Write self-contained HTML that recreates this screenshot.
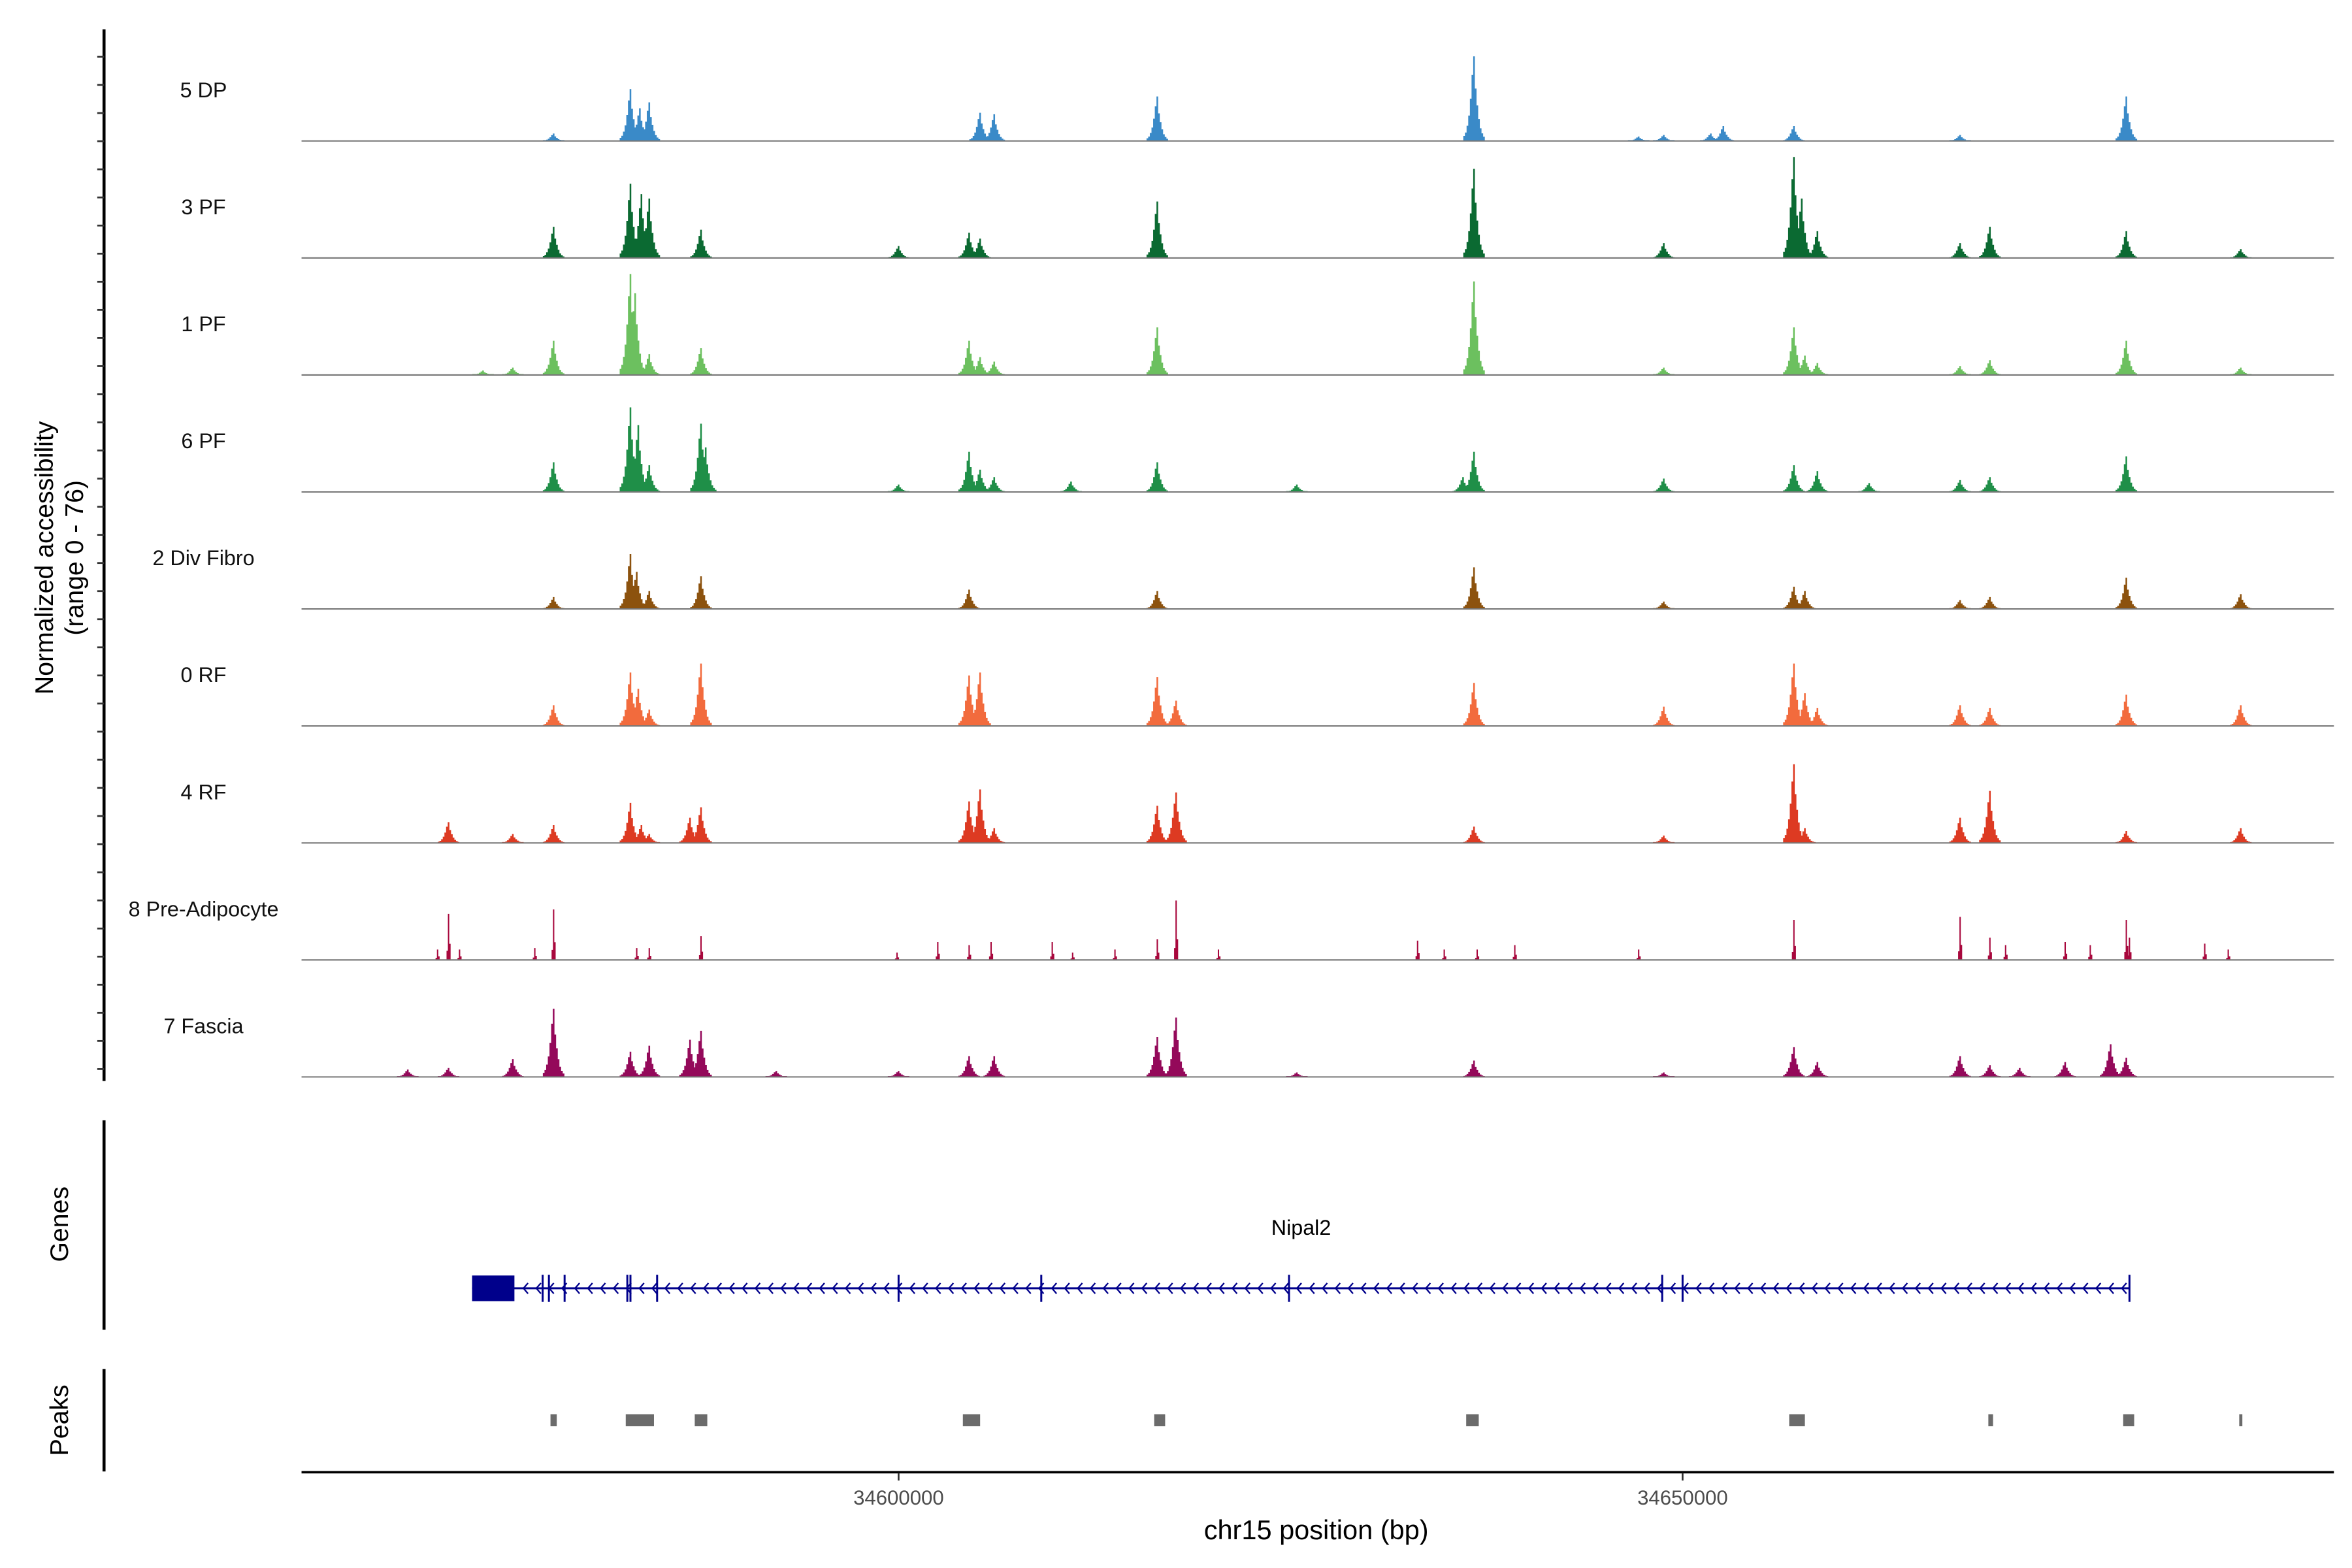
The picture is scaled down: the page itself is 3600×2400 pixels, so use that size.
<!DOCTYPE html>
<html><head><meta charset="utf-8"><style>
html,body{margin:0;padding:0;background:#fff;}
svg{display:block;font-family:"Liberation Sans",Arial,sans-serif;}
</style></head><body>
<svg id="chart" width="3600" height="2400" viewBox="0 0 1560 1040" preserveAspectRatio="none" xmlns="http://www.w3.org/2000/svg">
<rect width="1560" height="1040" fill="#fff"/>
<g id="tracks"></g>
<g id="yaxis"></g>
<text transform="translate(35,370) rotate(-90)" text-anchor="middle" font-size="17" fill="#000">Normalized accessibility</text>
<text transform="translate(55,370) rotate(-90)" text-anchor="middle" font-size="17" fill="#000">(range 0 - 76)</text>
<line x1="69" y1="743" x2="69" y2="882" stroke="#000" stroke-width="2"/>
<text transform="translate(45,812) rotate(-90)" text-anchor="middle" font-size="17" fill="#000">Genes</text>
<g id="genes"></g>
<line x1="69" y1="908" x2="69" y2="976" stroke="#000" stroke-width="2"/>
<text transform="translate(45,942) rotate(-90)" text-anchor="middle" font-size="17" fill="#000">Peaks</text>
<g id="peaks"></g>
<line x1="200" y1="976.5" x2="1548" y2="976.5" stroke="#000" stroke-width="1.6"/>
<g id="xaxis"></g>
<text x="873" y="1021" text-anchor="middle" font-size="18" fill="#000">chr15 position (bp)</text>
</svg>
<script>
const trackNames = ["5 DP","3 PF","1 PF","6 PF","2 Div Fibro","0 RF","4 RF","8 Pre-Adipocyte","7 Fascia"];
const trackColors = ["#3a8ac8","#0b6a32","#6cc05f","#1f8f48","#8c520e","#f26b3d","#dd3a22","#a8083d","#94095a"];
const pos_5dp = [-22.0,-17.1,-16.5,-15.9,5.2,6.1,16.5,36.7,47.2,48.8,51.8,52.6,57.1,67.7,78.3];
const val_5dp = [5,35,22,26,19,18,30,57,3,4,5,10,10,4,30];
const pos_3pf = [-22.0,-17.1,-16.4,-15.9,-12.6,0,4.5,5.2,16.5,36.7,48.8,57.1,57.6,58.6,67.7,69.6,78.3,85.6];
const val_3pf = [21,50,43,40,19,8,17,13,38,60,10,68,40,18,10,21,18,6];
const pos_1pf = [-26.5,-24.6,-22.0,-17.1,-16.8,-15.9,-12.6,4.5,5.2,6.1,16.5,36.7,48.8,57.1,57.8,58.6,67.7,69.6,78.3,85.6];
const val_1pf = [3,5,23,68,55,14,18,23,12,9,32,63,5,32,13,8,6,10,23,5];
const pos_6pf = [-22.0,-17.1,-16.6,-15.9,-12.6,-12.3,0,4.5,5.2,6.1,11.0,16.5,25.4,36.0,36.7,48.8,57.1,58.6,61.9,67.7,69.6,78.3];
const val_6pf = [20,57,45,18,46,30,5,27,15,10,7,20,5,10,27,9,18,14,6,8,10,24];
const pos_div = [-22.0,-17.1,-16.7,-15.9,-12.6,4.5,16.5,36.7,48.8,57.1,57.8,67.7,69.6,78.3,85.6];
const val_div = [8,37,25,12,22,13,12,28,5,15,12,6,8,21,10];
const pos_0rf = [-22.0,-17.1,-16.6,-15.9,-12.6,4.5,5.2,16.5,17.7,36.7,48.8,57.1,57.8,58.6,67.7,69.6,78.3,85.6];
const val_0rf = [14,36,25,11,42,34,36,33,17,29,13,42,22,12,14,12,21,14];
const pos_4rf = [-28.7,-24.6,-22.0,-17.1,-16.4,-15.9,-13.3,-12.6,4.5,5.2,6.1,16.5,17.7,36.7,48.8,57.1,57.8,67.7,69.6,78.3,85.6];
const val_4rf = [14,6,12,27,12,6,17,24,28,36,10,25,34,11,5,53,10,17,35,8,10];
const pos_pre = [-29.4,-28.7,-28.0,-23.2,-22.0,-16.7,-15.9,-12.6,-0.1,2.5,4.5,5.9,9.8,11.1,13.8,16.5,17.7,20.4,33.1,34.8,36.9,39.3,47.2,57.1,67.7,69.6,70.6,74.4,76.0,78.3,78.5,83.3,84.8];
const val_pre = [7,31,7,8,34,8,8,16,5,12,10,12,12,5,7,14,40,7,13,7,7,10,7,27,29,15,10,12,10,27,15,11,7];
const pos_fas = [-31.3,-28.7,-24.6,-22.0,-17.1,-15.9,-13.3,-12.6,-7.8,0,4.5,6.1,16.5,17.7,25.4,36.7,48.8,57.1,58.6,67.7,69.6,71.5,74.4,77.3,78.3];
const val_fas = [5,6,12,46,17,21,25,31,4,4,14,14,27,40,3,11,3,20,10,14,8,6,10,22,13];
const trackPos = [pos_5dp,pos_3pf,pos_1pf,pos_6pf,pos_div,pos_0rf,pos_4rf,pos_pre,pos_fas];
const trackVals = [val_5dp,val_3pf,val_1pf,val_6pf,val_div,val_0rf,val_4rf,val_pre,val_fas];
const peakStart = [-22.2,-17.4,-13.0,4.1,16.3,36.2,56.8,69.5,78.1,85.5];
const peakEnd = [-21.8,-15.6,-12.2,5.2,17.0,37.0,57.8,69.8,78.8,85.7];
const exonPos = [-22.7,-22.3,-21.3,-17.3,-17.1,-15.4,0,9.1,24.9,48.7,50,78.5];
const geneStart = -27.2, geneEnd = 78.5, firstExonEnd = -24.5;
const xTicks = [34600000,34650000];

const NS="http://www.w3.org/2000/svg";
const ORIGIN=34600000;
function xs(bp){return 596+(bp-34600000)*0.0104;}
function xk(kb){return xs(ORIGIN+kb*1000);}
function ys(v){return v*0.985;}
function mk(tag,attrs,parent){const e=document.createElementNS(NS,tag);for(const k in attrs)e.setAttribute(k,attrs[k]);parent.appendChild(e);return e;}

const tracksG=document.getElementById('tracks');
const baseY0=93.5, step=77.6;
const kernelBroad=[0.06,0.1,0.18,0.3,0.5,0.78,1,0.62,0.42,0.26,0.15,0.09,0.05];
const kernelNarrow=[0.2,1,0.35];
trackNames.forEach((name,i)=>{
  const by=baseY0+i*step;
  const g=mk('g',{},tracksG);
  
  
  const t=mk('text',{x:135,y:by-29,'text-anchor':'middle','font-size':14,fill:'#111'},g);
  
  
  t.textContent=name;
  const narrow=(i===7);
  const kern=narrow?kernelNarrow:kernelBroad;
  const half=(kern.length-1)/2;
  const bw=narrow?0.9:1.1;
  let d='';
  trackPos[i].forEach((p,j)=>{
    const cx=xk(p);const h=ys(trackVals[i][j]);
    kern.forEach((k,m)=>{
      const x=cx+(m-half)*bw;
      const hh=Math.max(0.6,h*k);
      d+=`M${(x-bw/2).toFixed(2)} ${by}h${bw}v${(-hh).toFixed(2)}h${-bw}z`;
    });
  });
  const path=mk('path',{d:d,fill:trackColors[i]},g);
  
  
  const bl=mk('line',{x1:200,y1:by,x2:1548,y2:by,stroke:'#777','stroke-width':0.9},g);
  
  
});

const ya=document.getElementById('yaxis');
const al=mk('line',{x1:69,y1:19.5,x2:69,y2:717,stroke:'#000','stroke-width':2},ya);


for(let y=37.7;y<712;y+=18.65){
  const tk=mk('line',{x1:64.5,y1:y,x2:69,y2:y,stroke:'#333','stroke-width':1.2},ya);
  
  
}

const gg=document.getElementById('genes');
const gl=mk('text',{x:863,y:819,'text-anchor':'middle','font-size':14,fill:'#000'},gg);


gl.textContent='Nipal2';
const gy=854.5;
const gline=mk('line',{x1:xk(geneStart),y1:gy,x2:xk(geneEnd),y2:gy,stroke:'#00008b','stroke-width':1.3},gg);


const ex1=mk('rect',{x:xk(geneStart),y:846,width:xk(firstExonEnd)-xk(geneStart),height:17,fill:'#00008b'},gg);


let cd='';
for(let x=xk(firstExonEnd)+6;x<xk(geneEnd)-2;x+=8.55){cd+=`M${(x+3).toFixed(2)} ${gy-3.5}L${x.toFixed(2)} ${gy}L${(x+3).toFixed(2)} ${gy+3.5}`;}
const ch=mk('path',{d:cd,stroke:'#00008b','stroke-width':1,fill:'none'},gg);


exonPos.forEach(p=>{
  const e=mk('line',{x1:xk(p),y1:gy-9,x2:xk(p),y2:gy+9,stroke:'#00008b','stroke-width':1.3},gg);
  
  
});

const pg=document.getElementById('peaks');
peakStart.forEach((s,i)=>{
  const r=mk('rect',{x:xk(s),y:938,width:Math.max(1.5,xk(peakEnd[i])-xk(s)),height:8,fill:'#6b6b6b'},pg);
  
  
});

const xa=document.getElementById('xaxis');
xTicks.forEach(v=>{
  const t=mk('line',{x1:xs(v),y1:977,x2:xs(v),y2:982,stroke:'#333','stroke-width':1.2},xa);
  
  
  const l=mk('text',{x:xs(v),y:998,'text-anchor':'middle','font-size':13.5,fill:'#4d4d4d'},xa);
  
  
  l.textContent=String(v);
});
</script>
</body></html>
